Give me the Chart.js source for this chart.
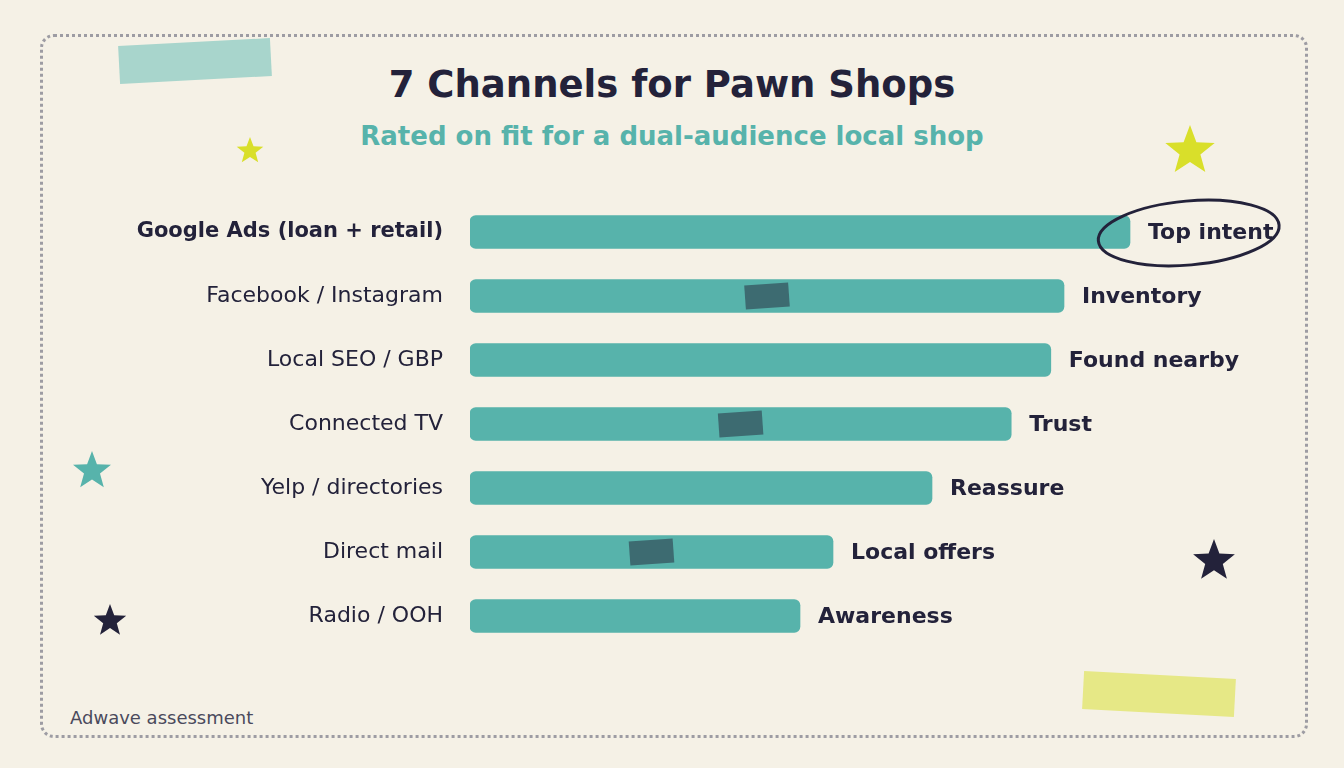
<!DOCTYPE html>
<html>
<head>
<meta charset="utf-8">
<script src="https://cdn.jsdelivr.net/npm/chart.js@4.4.1/dist/chart.umd.min.js"></script>
<style>
  html, body { margin: 0; padding: 0; background: #f5f1e6; }
  body { width: 1344px; height: 768px; position: relative; overflow: hidden; font-family: "DejaVu Sans", sans-serif; }
  .frame { position: absolute; left: 40px; top: 34px; width: 1262px; height: 698px; border: 3px dotted #9d9ca3; border-radius: 14px; }
  .tape { position: absolute; }
  .title { position: absolute; left: 0; width: 1344px; text-align: center; top: 63px; font-size: 37px; font-weight: 700; color: #23223a; }
  .subtitle { position: absolute; left: 0; width: 1344px; text-align: center; top: 121px; font-size: 26px; font-weight: 700; color: #57b3ab; }
  .footer { position: absolute; left: 70px; top: 707px; font-size: 18px; color: #4a4a5c; }
  canvas { position: absolute; left: 0; top: 0; }
  svg.star { position: absolute; }
</style>
</head>
<body>
<div class="frame"></div>
<div class="tape" style="left:119px;top:42px;width:152px;height:38px;background:#a8d5cc;transform:rotate(-3deg);"></div>
<div class="tape" style="left:1083px;top:675px;width:152px;height:38px;background:#e6e886;transform:rotate(3deg);"></div>
<div class="title">7 Channels for Pawn Shops</div>
<div class="subtitle">Rated on fit for a dual-audience local shop</div>
<div class="footer">Adwave assessment</div>
<canvas id="chart" width="1344" height="768"></canvas>
<script>
// channels and fit scores (0-10)
const channels = ['Google Ads (loan + retail)', 'Facebook / Instagram', 'Local SEO / GBP', 'Connected TV', 'Yelp / directories', 'Direct mail', 'Radio / OOH'];
const scores = [10, 9, 8.8, 8.2, 7, 5.5, 5];
const notes = ['Top intent', 'Inventory', 'Found nearby', 'Trust', 'Reassure', 'Local offers', 'Awareness'];
const taped = [1, 3, 5];

const INK = '#23223a';
const TEAL = '#57b3ab';
const FONT = '"DejaVu Sans", sans-serif';

// stars
function star(cx, cy, r, color) {
  const pts = [];
  for (let i = 0; i < 10; i++) {
    const a = -Math.PI / 2 + i * Math.PI / 5;
    const rr = i % 2 === 0 ? r : r * 0.42;
    pts.push((r + rr * Math.cos(a)).toFixed(1) + ',' + (r + rr * Math.sin(a)).toFixed(1));
  }
  const s = document.createElementNS('http://www.w3.org/2000/svg', 'svg');
  s.setAttribute('class', 'star');
  s.setAttribute('width', r * 2);
  s.setAttribute('height', r * 2);
  s.style.left = (cx - r) + 'px';
  s.style.top = (cy - r) + 'px';
  s.innerHTML = '<polygon points="' + pts.join(' ') + '" fill="' + color + '"/>';
  document.body.appendChild(s);
}
star(250, 151, 14, '#d9df2a');
star(1190, 151, 26, '#d9df2a');
star(92, 471, 20, TEAL);
star(110, 621, 17, INK);
star(1214, 561, 22, INK);

const notesPlugin = {
  id: 'notes',
  afterDatasetsDraw(chart) {
    const ctx = chart.ctx;
    const bars = chart.getDatasetMeta(0).data;
    ctx.save();
    // dark tape pieces on some bars
    taped.forEach(i => {
      const b = bars[i];
      const cx = (b.base + b.x) / 2;
      ctx.save();
      ctx.translate(cx, b.y);
      ctx.rotate(-4 * Math.PI / 180);
      ctx.fillStyle = '#3d6b71';
      ctx.fillRect(-22, -12, 44, 24);
      ctx.restore();
    });
    ctx.font = 'bold 22px ' + FONT;
    ctx.fillStyle = INK;
    ctx.textBaseline = 'middle';
    ctx.textAlign = 'left';
    bars.forEach((b, i) => {
      ctx.fillText(notes[i], b.x + 18, b.y + 1);
    });
    // hand-drawn ring around the top note
    const b0 = bars[0];
    const w = ctx.measureText(notes[0]).width;
    ctx.beginPath();
    ctx.ellipse(b0.x + 18 + w / 2 - 22, b0.y + 1, w / 2 + 28, 32, -5 * Math.PI / 180, 0, Math.PI * 2);
    ctx.strokeStyle = INK;
    ctx.lineWidth = 3;
    ctx.stroke();
    ctx.restore();
  }
};

new Chart(document.getElementById('chart'), {
  type: 'bar',
  data: {
    labels: channels,
    datasets: [{
      data: scores,
      backgroundColor: TEAL,
      borderRadius: 6,
      borderSkipped: false,
      barThickness: 33
    }]
  },
  options: {
    responsive: false,
    animation: false,
    indexAxis: 'y',
    layout: { padding: { top: 200, bottom: 120, left: 0, right: 49 } },
    plugins: { legend: { display: false }, tooltip: { enabled: false } },
    scales: {
      x: { display: false, min: 0, max: 12.5 },
      y: {
        grid: { display: false, drawTicks: false },
        border: { display: false },
        afterFit(scale) { scale.width = 470; },
        ticks: {
          padding: 27,
          color: INK,
          font: ctx => ctx.index === 0
            ? { family: FONT, size: 21, weight: 'bold' }
            : { family: FONT, size: 22, weight: 'normal' }
        }
      }
    }
  },
  plugins: [notesPlugin]
});
</script>
</body>
</html>
